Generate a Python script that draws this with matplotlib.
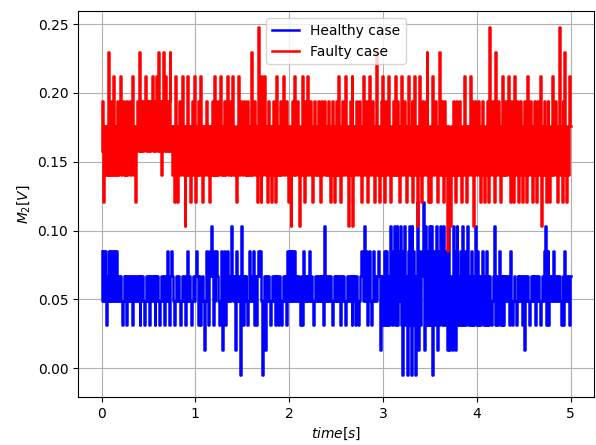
import numpy as np
import matplotlib
matplotlib.use("Agg")
import matplotlib.pyplot as plt

# quantised voltage levels [V]
LEVELS = [-0.005, 0.013, 0.031, 0.049, 0.067, 0.085, 0.103, 0.121,
          0.140, 0.158, 0.176, 0.194, 0.212, 0.230, 0.248]

# one character per sample (index into LEVELS, hex digit), 10 ms apart
healthy_codes = (
    "5353524353" "5353535343" "4323434243" "4342434343" "4243432343"
    "4243434243" "4323434243" "5323454323" "4343234343" "2353432343"
    "4542432343" "1353254642" "5345432351" "4523534356" "4341534306"
    "4243432353" "4352424545" "4303414343" "2343424342" "4323434253"
    "5353535343" "4324254343" "4353432343" "4343434263" "4343432343"
    "4343424343" "2343434243" "4243234543" "6353235323" "5343454142"
    "4252524263" "2562462536" "2056240562" "0625304715" "2457162532"
    "6260524615" "2635262451" "6142165146" "2425262524" "6242524246"
    "2524245242" "5242432346" "2423524242" "4343425323" "4323434342"
    "4143432343" "4342434323" "4356235243" "4353434343" "2342534342"
    "4"
)
faulty_codes = (
    "9b7a8a8d8a" "8b8c8a8b8a" "c8ab8a8b8a" "b8ac8a7ab9" "d9b9b9bc9b"
    "9b9bc9b9bc" "9d9b8bd9c9" "b9bd9a8a7c" "87ab8ac8a6" "a8c8a7ab8c"
    "7a8b8aca7a" "8ab8a7a8b8" "c8a8b8ac8a" "8b8ac8ab8a" "c8a87ac8ab"
    "8ab8a8b8a8" "d8ab8a7e8a" "7c8ac8a7b8" "a7ab87ac8a" "8b8ac8ab87"
    "a86ab8c8ab" "86a8c87b8a" "c8ab87ab8a" "8b87ab8ab8" "a8b87ab87a"
    "8b8c87ab8a" "c8a6ab8c6a" "8ab8ab87ac" "8ab87ac8ab" "87ad8a7ab8"
    "c87b8ac87a" "8b8c8ab87a" "c8ab87ac8a" "8b7ac8a6ac" "87b8ab8d87"
    "a7ac8ab87a" "d8ab87b8a5" "a86a8b87b8" "a8b87a8ca7" "a8ac8ba6ab"
    "8ab87ab87a" "8b87e8ab87" "d8ab87ac8a" "8b8ac87b87" "c8ab87ab87"
    "ab87c8ab87" "a8b87b8ac6" "a8b87ab87a" "8c8ab87ae8" "a7b8d87a8c"
    "a"
)

healthy = np.array([LEVELS[int(c, 16)] for c in healthy_codes])
faulty = np.array([LEVELS[int(c, 16)] for c in faulty_codes])
time = np.arange(len(healthy)) * 0.01

fig, ax = plt.subplots(figsize=(5.96, 4.45), dpi=100)
fig.subplots_adjust(left=0.131, right=0.9966, top=0.975, bottom=0.108)

ax.plot(time, healthy, color="blue", label="Healthy case",
        drawstyle="steps-mid", linewidth=1.8)
ax.plot(time, faulty, color="red", label="Faulty case",
        drawstyle="steps-mid", linewidth=1.8)
ax.set_xlabel("$time[s]$")
ax.set_ylabel("$M_2[V]$")
ax.set_ylim(-0.021, 0.2595)
ax.legend(loc="upper center")
ax.grid(True)

plt.savefig("out.png", dpi=100)
